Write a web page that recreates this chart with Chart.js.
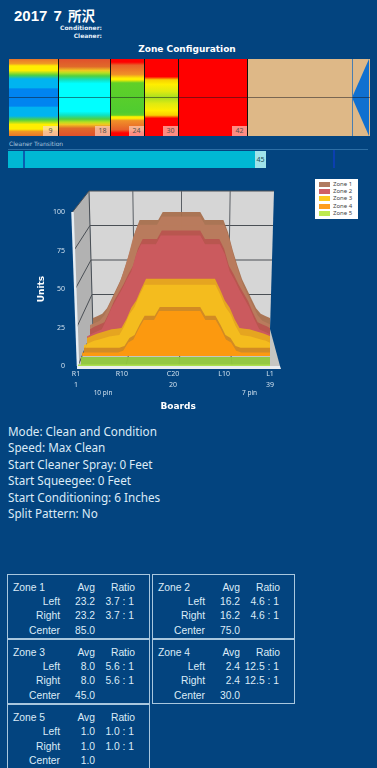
<!DOCTYPE html>
<html>
<head>
<meta charset="utf-8">
<title>2017 7 所沢</title>
<script src="https://cdn.jsdelivr.net/npm/chart.js@4"></script>
<style>
html, body { margin: 0; padding: 0; background: #03447f; }
#page { position: relative; width: 377px; height: 768px; overflow: hidden; background: #03447f; color: #e4eff8; font-family: "Noto Sans", sans-serif; }
#page div, #page span { position: absolute; white-space: nowrap; }
#page span.cjk { position: static; font: bold 13.5px 'Noto Sans CJK JP'; }
#meuGrafico { position: absolute; left: 0; top: 175px; }
.seg { top: 59px; height: 77px; border-right: 1px solid #111; box-sizing: border-box; }
.mark { bottom: 0; right: 0; width: 15px; height: 10px; background: rgba(255,215,200,.65); color: #55504c; font-size: 7px; line-height: 10px; text-align: center; }
.zbox { width: 141px; height: 63px; border: 1px solid #a9c7de; box-sizing: content-box; font: 10.3px "Liberation Sans", Arial, sans-serif; color: #dcebf7; }
</style>
</head>
<body>
<div id="page">
  <div style="left:14px;top:5px;font:bold 15px 'Liberation Sans';word-spacing:2px;color:#fff">2017 7 <span class="cjk">所沢</span></div>
  <div style="right:275px;top:24px;font:bold 6px 'DejaVu Sans';color:#e4eff8">Conditioner:</div>
  <div style="right:275px;top:32px;font:bold 6px 'DejaVu Sans';color:#e4eff8">Cleaner:</div>
  <div style="left:0;width:374px;text-align:center;top:44px;font:bold 9px 'DejaVu Sans';color:#fff">Zone Configuration</div>
  <div id="bar" style="left:9px;top:0;width:0;height:0"></div>
  <div style="left:9px;top:140px;font:6px 'DejaVu Sans';color:#a9c7de">Cleaner Transition</div>
  <div style="left:8px;top:149px;width:360px;height:1px;background:#2c6ea5"></div>
  <div style="left:8px;top:151px;width:257px;height:17px;background:#00b8d4"></div>
  <div style="left:23px;top:151px;width:2px;height:17px;background:#0a5fb0"></div>
  <div style="left:255px;top:151px;width:11px;height:17px;background:#9fe3ea;color:#23505c;font-size:7px;line-height:17px;text-align:center" id="transLabel"></div>
  <div style="left:333px;top:150px;width:2px;height:18px;background:#0b3fb0"></div>
  <canvas id="meuGrafico" width="377" height="240"></canvas>
  <div id="legenda" style="left:315px;top:179px;width:43px;height:40px;background:#fff"></div>
  <div id="info" style="left:8px;top:0"></div>
  <div id="zonas" style="left:0;top:0"></div>
</div>
<script>
// Dados
const zoneNames = ['Zone 1', 'Zone 2', 'Zone 3', 'Zone 4', 'Zone 5'];
const boards = [1,2,3,4,5,6,7,8,9,10,11,12,13,14,15,16,17,18,19,20,21,22,23,24,25,26,27,28,29,30,31,32,33,34,35,36,37,38,39];
const zone1 = [8,9.5,11,15,22,29,36,46,57,70,79,79,79,79,79,85,85,85,85,85,85,85,85,85,79,79,79,79,79,70,57,46,36,29,22,15,11,9.5,8];
const zone2 = [5,7,8.5,10,17,25,31,37,44,50,62,69,69,69,69,75,75,75,75,75,75,75,75,75,69,69,69,69,62,50,44,37,31,25,17,10,8.5,7,5];
const zone3 = [4,5.5,7,8,9,10,10.5,11,17,25,30,38,45,45,45,45,45,45,45,45,45,45,45,45,45,45,45,38,30,25,17,11,10.5,10,9,8,7,5.5,4];
const zone4 = [2.4,2.4,2.4,2.4,2.4,2.4,2.4,2.4,3.5,9,11,18,24,24,24,30,30,30,30,30,30,30,30,30,24,24,24,18,11,9,3.5,2.4,2.4,2.4,2.4,2.4,2.4,2.4,2.4];
const zone5 = [1,1,1,1,1,1,1,1,1,1,1,1,1,1,1,1,1,1,1,1,1,1,1,1,1,1,1,1,1,1,1,1,1,1,1,1,1,1,1];
const zoneValues = [zone1, zone2, zone3, zone4, zone5];

const xTickValues = [1, 10, 20, 30, 39];
const xTickNames = ['R1', 'R10', 'C20', 'L10', 'L1'];
const xTickNumbers = ['1', '', '20', '', '39'];

const leftAvg = ['23.2', '16.2', '8.0', '2.4', '1.0'];
const rightAvg = ['23.2', '16.2', '8.0', '2.4', '1.0'];
const centerAvg = ['85.0', '75.0', '45.0', '30.0', '1.0'];
const leftRatio = ['3.7 : 1', '4.6 : 1', '5.6 : 1', '12.5 : 1', '1.0 : 1'];
const rightRatio = ['3.7 : 1', '4.6 : 1', '5.6 : 1', '12.5 : 1', '1.0 : 1'];

const infoLines = ['Mode: Clean and Condition', 'Speed: Max Clean', 'Start Cleaner Spray: 0 Feet', 'Start Squeegee: 0 Feet', 'Start Conditioning: 6 Inches', 'Split Pattern: No'];
const zoneBreaks = [9, 18, 24, 30, 42];
const transition = '45';

// Cores
const faceColors = ['rgba(186,124,94,.93)', 'rgba(204,90,96,.93)', 'rgba(245,189,30,.93)', 'rgba(255,154,14,.93)', 'rgba(172,226,78,.95)'];
const topColors = ['rgba(168,112,78,.95)', 'rgba(184,84,78,.95)', 'rgba(230,170,28,.95)', 'rgba(208,136,36,.95)', 'rgba(144,200,60,.95)'];
const legendColors = ['#b07b60', '#cf6066', '#fdca20', '#ff9d1c', '#bdea4f'];
const segGradients = [
    'linear-gradient(#e8752a 0,#f09a24 6%,#ffee00 9%,#ffee00 15%,#50d040 21%,#00b4f0 26%,#00b4f0 37%,#0084f0 39%,#0084f0 61%,#00b4f0 63%,#00b4f0 74%,#50d040 79%,#ffee00 85%,#ffee00 91%,#f09a24 94%,#e8752a 100%)',
    'linear-gradient(#e0502c 0,#e06a2a 10%,#f0c820 15%,#b8e020 18%,#50d040 22%,#10e0c0 27%,#00ffff 32%,#00ffff 68%,#10e0c0 73%,#50d040 78%,#b8e020 82%,#f0c820 85%,#e06a2a 90%,#e0502c 100%)',
    'linear-gradient(#ff0000 0,#ff0000 4%,#e8602a 8%,#f09028 20%,#ffee00 25%,#ffee00 27%,#60d028 31%,#50cc30 69%,#60d028 73%,#ffee00 75%,#ffee00 77%,#f09028 80%,#e8602a 92%,#ff0000 96%,#ff0000 100%)',
    'linear-gradient(#ff0000 0,#ff0000 23%,#f8d000 27%,#ffee00 33%,#e0ea10 42%,#a8e020 50%,#e0ea10 58%,#ffee00 67%,#f8d000 73%,#ff0000 77%,#ff0000 100%)',
    'linear-gradient(#ff0000,#ff0000)'
];

// Barra de zonas
const bar = document.getElementById('bar');
const pxPerBoard = 5.73;
let prevX = 0;
zoneBreaks.forEach((b, i) => {
    const x = Math.round(b * pxPerBoard - 2.5);
    const seg = document.createElement('div');
    seg.className = 'seg';
    seg.style.left = prevX + 'px';
    seg.style.width = (x - prevX + 1) + 'px';
    seg.style.background = segGradients[i];
    const mark = document.createElement('span');
    mark.className = 'mark';
    mark.textContent = b;
    seg.appendChild(mark);
    bar.appendChild(seg);
    prevX = x + 1;
});
bar.insertAdjacentHTML('beforeend',
    '<div style="left:' + prevX + 'px;top:59px;width:' + (361 - prevX) + 'px;height:77px;background:#deb887"></div>' +
    '<svg style="position:absolute;left:343px;top:59px" width="18" height="77"><polygon points="0,38.5 17,0 17,77" fill="#1070d0"/><line x1="0.5" y1="0" x2="0.5" y2="77" stroke="#4a7eb0"/></svg>' +
    '<div style="left:0;top:97px;width:361px;height:1px;background:rgba(20,20,30,.5)"></div>');
document.getElementById('transLabel').textContent = transition;

// Legenda
const legenda = document.getElementById('legenda');
zoneNames.forEach((name, i) => {
    legenda.insertAdjacentHTML('beforeend',
        '<div style="left:4px;top:' + (3 + i * 7.2) + 'px;width:11px;height:5px;background:' + legendColors[i] + '"></div>' +
        '<div style="left:18px;top:' + (2 + i * 7.2) + 'px;font:6px/7px \'Noto Sans\';color:#444">' + name + '</div>');
});

// Texto
const info = document.getElementById('info');
infoLines.forEach((line, i) => {
    info.insertAdjacentHTML('beforeend', '<div style="left:0;top:' + (422 + i * 16.4) + 'px;font:11.7px/18px \'Noto Sans\';color:#dcebf7">' + line + '</div>');
});

// Tabelas
const zonas = document.getElementById('zonas');
function cell(text, right, top, anchorLeft) {
    const pos = anchorLeft ? 'left:' + right + 'px' : 'right:' + (141 - right) + 'px';
    return '<span style="' + pos + ';top:' + top + 'px">' + text + '</span>';
}
zoneNames.forEach((name, i) => {
    const col = i % 2, row = Math.floor(i / 2);
    const rows = [['Left', leftAvg[i], leftRatio[i]], ['Right', rightAvg[i], rightRatio[i]], ['Center', centerAvg[i], '']];
    let html = cell(name, 5, 6.5, true) + cell('Avg', 87, 6.5) + cell('Ratio', 127, 6.5);
    rows.forEach((r, j) => {
        const top = 6.5 + (j + 1) * 14.4;
        html += cell(r[0], 52, top) + cell(r[1], 87, top) + cell(r[2], 126, top);
    });
    zonas.insertAdjacentHTML('beforeend', '<div class="zbox" style="left:' + (7 + col * 145) + 'px;top:' + (574 + row * 65.2) + 'px">' + html + '</div>');
});

// Projecao 3D: cada zona tem uma profundidade propria, feita com eixos escondidos
const areaLeft = 76, areaRight = 270, areaTop = 212, areaBottom = 366;
const depthBack = [1, 0.8, 0.6, 0.4, 0.2];
const depthFront = [0.8, 0.6, 0.4, 0.27, 0];
const baseAt = (d) => 366 - 37 * d;
const unitAt = (d) => 1.54 - 0.16 * d;

function depthScales(d) {
    const left = 78 + 15 * d, right = 280 - 10 * d;
    const base = baseAt(d), k = unitAt(d);
    const s = (right - left) / 38;
    return {
        x: { type: 'linear', display: false, min: 1 + (areaLeft - left) / s, max: 1 + (areaRight - left) / s },
        y: { type: 'linear', display: false, min: (base - areaBottom) / k, max: (base - areaTop) / k }
    };
}

const scales = {
    x: {
        type: 'linear',
        min: 1,
        max: 39,
        afterFit: (s) => { s.height = 45; },
        afterBuildTicks: (s) => { s.ticks = xTickValues.map((v) => ({ value: v })); },
        grid: { display: false, drawTicks: false },
        border: { display: false },
        ticks: {
            autoSkip: false,
            maxRotation: 0,
            padding: 3,
            color: '#cfe0ee',
            font: { family: 'Noto Sans', size: 7, lineHeight: 1.55 },
            callback: (v) => {
                const i = xTickValues.indexOf(v);
                return [xTickNames[i], xTickNumbers[i]];
            }
        }
    },
    y: {
        type: 'linear',
        min: 0,
        max: 100,
        afterFit: (s) => { s.width = 40; },
        grid: { display: false, drawTicks: false },
        border: { display: false },
        ticks: { stepSize: 25, padding: 11, color: '#cfe0ee', font: { family: 'Noto Sans', size: 7 } },
        title: { display: true, text: 'Units', color: '#fff', font: { family: 'DejaVu Sans', size: 9, weight: 'bold' }, padding: 0 }
    }
};

const datasets = [];
zoneNames.forEach((name, i) => {
    const back = depthScales(depthBack[i]);
    const front = depthScales(depthFront[i]);
    scales['xZ' + i + 'b'] = back.x;
    scales['yZ' + i + 'b'] = back.y;
    scales['xZ' + i + 'f'] = front.x;
    scales['yZ' + i + 'f'] = front.y;
    const pts = boards.map((b, j) => ({ x: b, y: zoneValues[i][j] }));
    // a banda de cima desce ate a base da face da frente
    const bandBottom = (baseAt(depthBack[i]) - baseAt(depthFront[i])) / unitAt(depthBack[i]);
    datasets.push({
        label: name, data: pts, xAxisID: 'xZ' + i + 'b', yAxisID: 'yZ' + i + 'b',
        backgroundColor: topColors[i], borderWidth: 0, pointRadius: 0, tension: 0, fill: { value: bandBottom }, clip: false,
        order: 20 - i * 2
    });
    datasets.push({
        label: name, data: pts, xAxisID: 'xZ' + i + 'f', yAxisID: 'yZ' + i + 'f',
        backgroundColor: faceColors[i], borderWidth: 0, pointRadius: 0, tension: 0, fill: 'origin', clip: false,
        order: 19 - i * 2
    });
});

// Paredes e chao do grafico
const wallPlugin = {
    id: 'wall',
    beforeDatasetsDraw(chart) {
        const c = chart.ctx;
        const bx = chart.scales.xZ0b, by = chart.scales.yZ0b;
        const fx = chart.scales.xZ4f, fy = chart.scales.yZ4f;
        const back = (b, v) => [bx.getPixelForValue(b) + (b - 20) / 19 * 4 * v / 100, by.getPixelForValue(v)];
        const front = (b, v) => [fx.getPixelForValue(b) + (b - 20) / 19 * 5.5 * v / 100, fy.getPixelForValue(v)];
        const poly = (points, color) => {
            c.beginPath();
            points.forEach((p, i) => (i ? c.lineTo(p[0], p[1]) : c.moveTo(p[0], p[1])));
            c.closePath();
            c.fillStyle = color;
            c.fill();
        };
        const line = (a, b, color, w) => {
            c.beginPath();
            c.moveTo(a[0], a[1]);
            c.lineTo(b[0], b[1]);
            c.strokeStyle = color;
            c.lineWidth = w;
            c.stroke();
        };
        c.save();
        poly([back(1, 0), back(39, 0), back(39, 100), back(1, 100)], '#d6d6d6');
        poly([front(1, 0), front(1, 100), back(1, 100), back(1, 0)], '#b2b2b2');
        poly([front(1, 0), front(39, 0), back(39, 0), back(1, 0)], '#c6c6c2');
        [0, 25, 50, 75, 100].forEach((v) => {
            if (v) line(back(1, v), back(39, v), '#4a4f55', 1);
            line(front(1, v), back(1, v), '#4a4f55', 1);
        });
        line(back(1, 0), back(1, 100), '#4a4f55', 1);
        [10, 20, 30].forEach((b) => {
            line(back(b, 0), back(b, 100), '#5a5f65', 1);
            line(back(b, 0), front(b, 0), '#5a5f65', 1);
        });
        line(front(1, 0), front(1, 100), '#e6edf3', 2.5);
        const f0 = front(1, 0), f1 = front(39, 0);
        poly([[f0[0] - 1, f0[1]], [f1[0], f1[1]], [f1[0] + 1, f1[1] + 3], [f0[0] - 1, f0[1] + 3]], '#e9edf0');
        c.restore();
    },
    afterDraw(chart) {
        const c = chart.ctx, x = chart.scales.x;
        c.save();
        c.font = '6.5px "Noto Sans"';
        c.fillStyle = '#cfe0ee';
        c.textAlign = 'center';
        c.fillText('10 pin', x.getPixelForValue(6.3), 220);
        c.fillText('7 pin', x.getPixelForValue(35), 220);
        c.font = 'bold 9px "DejaVu Sans"';
        c.fillStyle = '#fff';
        c.fillText('Boards', x.getPixelForValue(21), 234);
        c.restore();
    }
};

const ctx = document.getElementById('meuGrafico').getContext('2d');
const meuGrafico = new Chart(ctx, {
    type: 'line',
    data: { datasets: datasets },
    plugins: [wallPlugin],
    options: {
        responsive: false,
        animation: false,
        devicePixelRatio: 1,
        layout: { padding: { left: 36, right: 107, top: 37, bottom: 4 } },
        plugins: { legend: { display: false }, tooltip: { enabled: false } },
        scales: scales
    }
});
</script>
</body>
</html>
